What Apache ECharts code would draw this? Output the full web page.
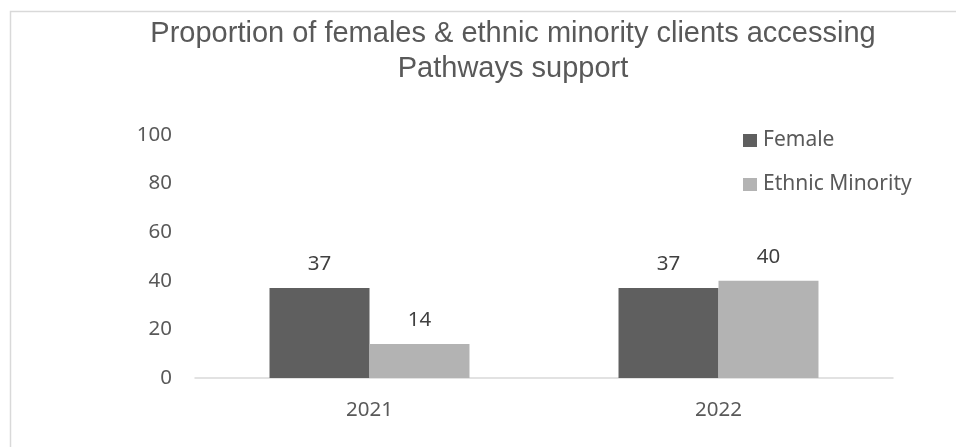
<!DOCTYPE html>
<html>
<head>
<meta charset="utf-8">
<script src="https://cdn.jsdelivr.net/npm/echarts@6/dist/echarts.min.js"></script>
<style>
  html, body { margin: 0; padding: 0; background: #fff; }
  #chart { width: 956px; height: 447px; }
</style>
</head>
<body>
<div id="chart"></div>
<script>
// Chart data
const years = ['2021', '2022'];
const female = [37, 37];
const ethnicMinority = [14, 40];
const yTicks = [0, 20, 40, 60, 80, 100];

const textColor = '#595959';
const labelFont = '"Noto Sans", "Open Sans", sans-serif';

const chart = echarts.init(document.getElementById('chart'), null, { renderer: 'canvas' });

chart.setOption({
  backgroundColor: '#fff',
  animation: false,
  graphic: [{
    type: 'rect',
    shape: { x: 10.5, y: 11.5, width: 960, height: 460 },
    style: { fill: 'none', stroke: '#d9d9d9', lineWidth: 1.5 },
    silent: true
  }],
  title: {
    text: 'Proportion of females & ethnic minority clients accessing\nPathways support',
    left: 508,
    textAlign: 'center',
    top: 11,
    textStyle: {
      fontFamily: '"Liberation Sans", Arial, sans-serif',
      fontSize: 29,
      fontWeight: 'normal',
      color: textColor,
      lineHeight: 35
    }
  },
  legend: {
    orient: 'vertical',
    left: 738,
    top: 125,
    itemWidth: 14,
    itemHeight: 13,
    itemGap: 23,
    icon: 'rect',
    textStyle: {
      fontFamily: labelFont,
      fontSize: 21,
      color: textColor,
      padding: [0, 0, 0, 1]
    },
    data: ['Female', 'Ethnic Minority']
  },
  grid: {
    left: 195,
    right: 63,
    top: 135,
    bottom: 69,
    containLabel: false
  },
  xAxis: {
    type: 'category',
    data: years,
    axisLine: { show: true, lineStyle: { color: '#d9d9d9', width: 1.5 } },
    axisTick: { show: false },
    axisLabel: {
      color: textColor,
      fontFamily: labelFont,
      fontSize: 20.5,
      margin: 22
    }
  },
  yAxis: {
    type: 'value',
    min: yTicks[0],
    max: yTicks[yTicks.length - 1],
    interval: yTicks[1] - yTicks[0],
    axisLine: { show: false },
    axisTick: { show: false },
    splitLine: { show: false },
    axisLabel: {
      color: textColor,
      fontFamily: labelFont,
      fontSize: 20.5,
      margin: 23
    }
  },
  series: [
    {
      name: 'Female',
      type: 'bar',
      data: female,
      barGap: '0%',
      barCategoryGap: '42.7%',
      itemStyle: { color: '#5f5f5f' },
      label: {
        show: true,
        position: 'top',
        distance: 13,
        color: '#404040',
        fontFamily: labelFont,
        fontSize: 20.5
      }
    },
    {
      name: 'Ethnic Minority',
      type: 'bar',
      data: ethnicMinority,
      barGap: '0%',
      barCategoryGap: '42.7%',
      itemStyle: { color: '#b3b3b3' },
      label: {
        show: true,
        position: 'top',
        distance: 13,
        color: '#404040',
        fontFamily: labelFont,
        fontSize: 20.5
      }
    }
  ]
});
</script>
</body>
</html>
